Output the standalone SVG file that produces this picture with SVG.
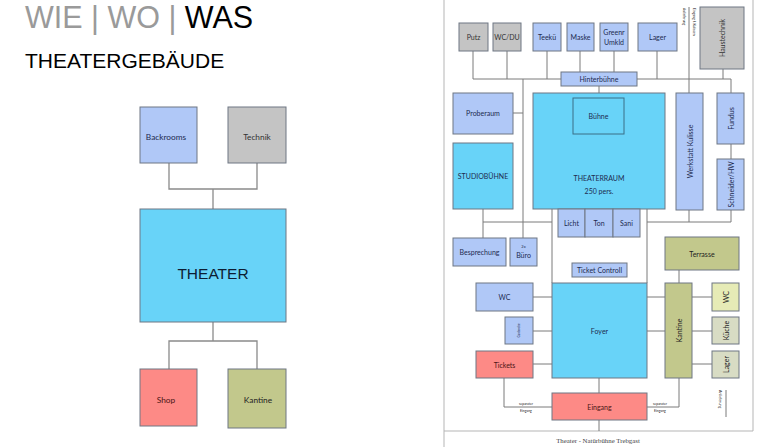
<svg xmlns="http://www.w3.org/2000/svg" width="768" height="447" viewBox="0 0 768 447">
<style>
.b{stroke:#6e7783;stroke-width:1}
.bl{fill:#b0c8f7}
.cy{fill:#68d3f8}
.gr{fill:#c4c4c4}
.rd{fill:#fd8a86}
.ol{fill:#c2c88c}
.yl{fill:#e6ebb6}
.gg{fill:#d8dcc4}
.t{font-family:Lato,"Liberation Sans",sans-serif;font-size:7px;fill:#1d2b4f;text-anchor:middle;dominant-baseline:central}
.tl{font-family:Lato,"Liberation Sans",sans-serif;font-size:8.3px;fill:#1d2b4f;text-anchor:middle;dominant-baseline:central}
.c line,.c polyline{stroke:#7a7a7a;stroke-width:1;fill:none}
.lc line,.lc polyline{stroke:#8a8a8a;stroke-width:1.3;fill:none}
</style>
<rect width="768" height="447" fill="#fff"/>
<g id="header">
<text x="25" y="28" font-family="Liberation Sans, Arial, sans-serif" font-size="30.5" fill="#9a9a9a">WIE | WO | <tspan fill="#000">WAS</tspan></text>
<text x="25" y="68" font-family="Liberation Sans, Arial, sans-serif" font-size="21" fill="#000">THEATERGEBÄUDE</text>
</g>
<g class="lc" id="left-connectors">
<polyline points="169,163 169,189 257,189 257,163"/>
<line x1="213" y1="189" x2="213" y2="209"/>
<line x1="213" y1="322" x2="213" y2="341"/>
<polyline points="169,369 169,341 257,341 257,369"/>
</g>
<g id="l-backrooms"><rect x="140" y="107" width="57" height="56" class="b bl"/><text x="166" y="137" class="tl">Backrooms</text></g>
<g id="l-technik"><rect x="228" y="107" width="58" height="56" class="b gr"/><text x="257" y="137" class="tl" style="fill:#333">Technik</text></g>
<g id="l-theater"><rect x="140" y="209" width="146" height="113" class="b cy"/><text x="213" y="273" font-family="Liberation Sans, Arial, sans-serif" font-size="15.5" fill="#0d1d33" text-anchor="middle" dominant-baseline="central">THEATER</text></g>
<g id="l-shop"><rect x="140" y="369" width="57" height="57" class="b rd"/><text x="166" y="400" class="tl" style="fill:#4a1515">Shop</text></g>
<g id="l-kantine"><rect x="228" y="369" width="58" height="59" class="b ol"/><text x="258" y="400" class="tl" style="fill:#222">Kantine</text></g>

<g id="frame" stroke="#b5b5b5" stroke-width="1" fill="none">
<polyline points="444,0 444,447"/>
<polyline points="444,431 753,431 753,0"/>
</g>
<text x="598" y="443" font-family="Liberation Serif, Times New Roman, serif" font-size="6.8" fill="#444" text-anchor="middle">Theater - Natürbühne Trebgast</text>

<g class="c" id="connectors">
<line x1="473" y1="79" x2="731" y2="79"/>
<line x1="473" y1="51" x2="473" y2="79"/>
<line x1="507" y1="51" x2="507" y2="79"/>
<line x1="547" y1="51" x2="547" y2="79"/>
<line x1="580" y1="51" x2="580" y2="79"/>
<line x1="614" y1="51" x2="614" y2="79"/>
<line x1="657" y1="51" x2="657" y2="79"/>
<line x1="723" y1="69" x2="723" y2="79"/>
<line x1="731" y1="79" x2="731" y2="93"/>
<line x1="689" y1="7" x2="689" y2="93"/>
<line x1="599" y1="86" x2="599" y2="93"/>
<line x1="523" y1="79" x2="523" y2="238"/>
<line x1="513" y1="113" x2="523" y2="113"/>
<line x1="731" y1="144" x2="731" y2="159"/>
<polyline points="689,210 689,222"/>
<polyline points="731,210 731,222"/>
<line x1="647" y1="222" x2="731" y2="222"/>
<line x1="483" y1="209" x2="483" y2="238"/>
<line x1="483" y1="222" x2="552" y2="222"/>
<line x1="552" y1="209" x2="552" y2="283"/>
<line x1="647" y1="209" x2="647" y2="283"/>
<line x1="679" y1="270" x2="679" y2="283"/>
<line x1="533" y1="297" x2="552" y2="297"/>
<line x1="533" y1="331" x2="552" y2="331"/>
<line x1="533" y1="364" x2="552" y2="364"/>
<line x1="647" y1="297" x2="665" y2="297"/>
<line x1="647" y1="331" x2="665" y2="331"/>
<line x1="692" y1="297" x2="712" y2="297"/>
<line x1="692" y1="331" x2="712" y2="331"/>
<line x1="692" y1="364" x2="712" y2="364"/>
<line x1="599" y1="378" x2="599" y2="393"/>
<line x1="599" y1="420" x2="599" y2="431"/>
<polyline points="504,378 504,407 552,407"/>
<polyline points="679,378 679,407 647,407"/>
<line x1="726" y1="390" x2="726" y2="417"/>
</g>
<g id="conn-labels" font-family="Lato, Liberation Sans, sans-serif" fill="#222" text-anchor="middle">
<text x="526" y="405" font-size="3.4">separater</text>
<text x="526" y="411.5" font-size="3.4">Eingang</text>
<text x="660" y="405" font-size="3.4">separater</text>
<text x="660" y="411.5" font-size="3.4">Eingang</text>
<text transform="translate(683,8) rotate(90)" font-size="3.4" text-anchor="start">Anlieferung</text>
<text transform="translate(693,8) rotate(90)" font-size="3.4" text-anchor="start">Eingang f. Kulissen</text>
<text transform="translate(719,390) rotate(90)" font-size="3.6" text-anchor="start">Anlieferung</text>
</g>

<g id="putz"><rect x="459" y="23" width="29" height="28" class="b gr"/><text x="473.5" y="37" class="t" style="fill:#333">Putz</text></g>
<g id="wcdu"><rect x="493" y="23" width="28" height="28" class="b gr"/><text x="507" y="37" class="t" style="fill:#333">WC/DU</text></g>
<g id="teeku"><rect x="533" y="23" width="28" height="28" class="b bl"/><text x="547" y="37" class="t">Teekü</text></g>
<g id="maske"><rect x="567" y="23" width="27" height="28" class="b bl"/><text x="580.5" y="37" class="t">Maske</text></g>
<g id="greenr"><rect x="600" y="23" width="28" height="28" class="b bl"/><text x="614" y="32" class="t">Greenr</text><text x="614" y="42" class="t">Umkld</text></g>
<g id="lager-top"><rect x="638" y="23" width="39" height="28" class="b bl"/><text x="657.5" y="37" class="t">Lager</text></g>
<g id="haustechnik"><rect x="700" y="7" width="44" height="62" class="b gr"/><text transform="translate(722,38) rotate(-90)" class="t" style="fill:#333">Haustechnik</text></g>
<g id="hinterbuehne"><rect x="561" y="72" width="76" height="14" class="b bl"/><text x="599" y="79" class="t">Hinterbühne</text></g>
<g id="proberaum"><rect x="453" y="93" width="60" height="41" class="b bl"/><text x="483" y="113" class="t">Proberaum</text></g>
<g id="theaterraum"><rect x="533" y="93" width="132" height="116" class="b cy"/><text x="599" y="178" class="t">THEATERRAUM</text><text x="599" y="191" class="t">250 pers.</text></g>
<g id="buehne"><rect x="573" y="98" width="51" height="36" fill="#68d3f8" stroke="#3b6f86" stroke-width="1"/><text x="598.5" y="116" class="t">Bühne</text></g>
<g id="werkstatt"><rect x="676" y="93" width="27" height="117" class="b bl"/><text transform="translate(689.5,151.5) rotate(-90)" class="t">Werkstatt Kulisse</text></g>
<g id="fundus"><rect x="717" y="93" width="27" height="51" class="b bl"/><text transform="translate(730.5,118.5) rotate(-90)" class="t">Fundus</text></g>
<g id="schneider"><rect x="717" y="159" width="27" height="51" class="b bl"/><text transform="translate(730.5,184.5) rotate(-90)" class="t">Schneider/HW</text></g>
<g id="studiobuehne"><rect x="453" y="143" width="60" height="66" class="b cy"/><text x="483" y="176" class="t">STUDIOBÜHNE</text></g>
<g id="licht"><rect x="558" y="209" width="27" height="28" class="b bl"/><text x="571.5" y="223" class="t">Licht</text></g>
<g id="ton"><rect x="585" y="209" width="28" height="28" class="b bl"/><text x="599" y="223" class="t">Ton</text></g>
<g id="sani"><rect x="613" y="209" width="27" height="28" class="b bl"/><text x="626.5" y="223" class="t">Sani</text></g>
<g id="besprechung"><rect x="453" y="238" width="53" height="28" class="b bl"/><text x="479.5" y="252" class="t">Besprechung</text></g>
<g id="buero"><rect x="510" y="238" width="27" height="28" class="b bl"/><text x="523.5" y="246" class="t" style="font-size:4px">2x</text><text x="523.5" y="255" class="t">Büro</text></g>
<g id="ticketcontroll"><rect x="572" y="263" width="55" height="14" class="b bl"/><text x="599.5" y="270" class="t">Ticket Controll</text></g>
<g id="terrasse"><rect x="665" y="237" width="74" height="33" class="b ol"/><text x="702" y="254" class="t" style="fill:#222">Terrasse</text></g>
<g id="wc-left"><rect x="476" y="283" width="57" height="28" class="b bl"/><text x="504.5" y="297" class="t">WC</text></g>
<g id="garderobe"><rect x="505" y="317" width="28" height="27" class="b bl"/><text transform="translate(519,330.5) rotate(-90)" class="t" style="font-size:3px">Garderobe</text></g>
<g id="tickets"><rect x="476" y="351" width="57" height="27" class="b rd"/><text x="504.5" y="364.5" class="t" style="fill:#4a1515">Tickets</text></g>
<g id="foyer"><rect x="552" y="283" width="95" height="95" class="b cy"/><text x="599.5" y="331" class="t">Foyer</text></g>
<g id="kantine"><rect x="665" y="283" width="27" height="95" class="b ol"/><text transform="translate(678.5,330.5) rotate(-90)" class="t" style="fill:#222">Kantine</text></g>
<g id="wc-right"><rect x="712" y="283" width="27" height="28" class="b yl"/><text transform="translate(725.5,297) rotate(-90)" class="t" style="fill:#222">WC</text></g>
<g id="kueche"><rect x="712" y="317" width="27" height="27" class="b gg"/><text transform="translate(725.5,330.5) rotate(-90)" class="t" style="fill:#222">Küche</text></g>
<g id="lager-right"><rect x="712" y="351" width="27" height="27" class="b gg"/><text transform="translate(725.5,364.5) rotate(-90)" class="t" style="fill:#222">Lager</text></g>
<g id="eingang"><rect x="552" y="393" width="95" height="27" class="b rd"/><text x="599.5" y="406.5" class="t" style="fill:#4a1515">Eingang</text></g>
</svg>
